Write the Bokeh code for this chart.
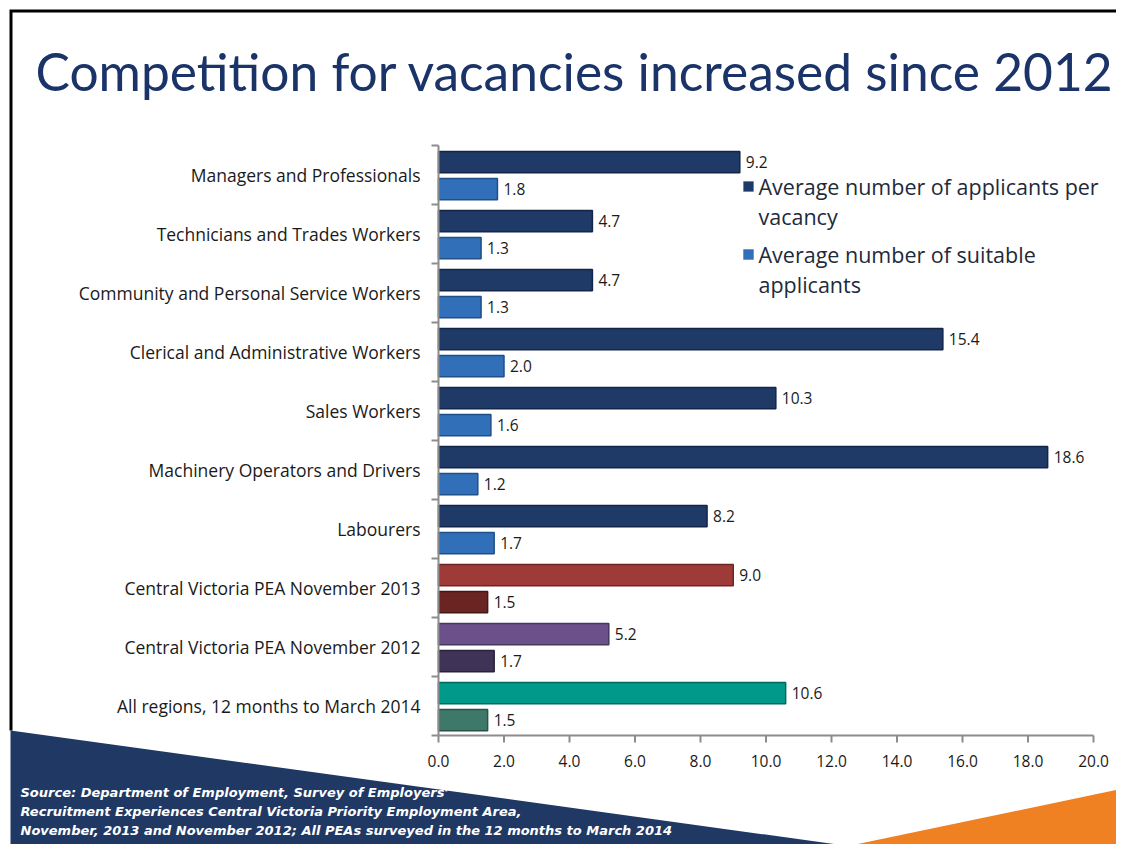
from bokeh.plotting import figure
from bokeh.models import Range1d, Label, PolyAnnotation, ColumnDataSource, BoxAnnotation
from bokeh.embed import file_html
from bokeh.resources import INLINE
from bokeh.core.properties import value

# ---------------- data ----------------
categories = [
    "Managers and Professionals",
    "Technicians and Trades Workers",
    "Community and Personal Service Workers",
    "Clerical and Administrative Workers",
    "Sales Workers",
    "Machinery Operators and Drivers",
    "Labourers",
    "Central Victoria PEA November 2013",
    "Central Victoria PEA November 2012",
    "All regions, 12 months to March 2014",
]
applicants = [9.2, 4.7, 4.7, 15.4, 10.3, 18.6, 8.2, 9.0, 5.2, 10.6]
suitable = [1.8, 1.3, 1.3, 2.0, 1.6, 1.2, 1.7, 1.5, 1.7, 1.5]
x_ticks = [0, 2, 4, 6, 8, 10, 12, 14, 16, 18, 20]
title_text = "Competition for vacancies increased since 2012"
legend_lines = [["Average number of applicants per", "vacancy"],
                ["Average number of suitable", "applicants"]]
source_lines = [
    "Source: Department of Employment, Survey of Employers'",
    "Recruitment Experiences Central Victoria Priority Employment Area,",
    "November, 2013 and November 2012; All PEAs surveyed in the 12 months to March 2014",
]

# ---------------- styles / layout constants ----------------
app_colors = ["#1F3A66"] * 7 + ["#9E3B39", "#6B5089", "#00998A"]
suit_colors = ["#3170B8"] * 7 + ["#6A2523", "#3F3357", "#3E7868"]
app_lines = ["#132649"] * 7 + ["#6E2624", "#47365E", "#00695F"]
suit_lines = ["#1F4F88"] * 7 + ["#451717", "#2A223B", "#28524A"]
FONT = "Open Sans"
TEXT = "#1A1A1A"
AXIS = "#8C8C8C"
W, H = 1116, 844
PX_LEFT, PX_RIGHT, PX_TOP, PX_BOTTOM = 438, 1093, 145, 735

n = len(categories)
x_max = x_ticks[-1]
K = (PX_RIGHT - PX_LEFT) / x_max          # pixels per x unit
R = (PX_BOTTOM - PX_TOP) / n              # pixels per category row
TICK = 7

idx = list(range(n))
src = ColumnDataSource(dict(
    y_app=[i + 0.28 for i in idx],
    y_suit=[i + 0.74 for i in idx],
    app=applicants,
    suit=suitable,
    app_txt=[f"{v:.1f}" for v in applicants],
    suit_txt=[f"{v:.1f}" for v in suitable],
    app_col=app_colors,
    suit_col=suit_colors,
    app_line=app_lines,
    suit_line=suit_lines,
))

p = figure(width=W, height=H, min_border=0,
           x_range=Range1d(-PX_LEFT / K, (W - PX_LEFT) / K),
           y_range=Range1d((H - PX_TOP) / R, -PX_TOP / R),
           x_axis_location=None, y_axis_location=None,
           output_backend="svg", toolbar_location=None,
           background_fill_color="white", border_fill_color="white",
           outline_line_color=None)
p.xgrid.visible = False
p.ygrid.visible = False

# ---------------- slide decoration ----------------
p.add_layout(PolyAnnotation(xs=[850, 1200, 1200, 850], ys=[845, 772, 900, 900],
                            xs_units="canvas", ys_units="canvas",
                            fill_color="#F08122", fill_alpha=1, line_color=None, level="underlay"))
p.add_layout(PolyAnnotation(xs=[10, 953, 10], ys=[730, 860, 860],
                            xs_units="canvas", ys_units="canvas",
                            fill_color="#1F3864", fill_alpha=1, line_color=None, level="underlay"))
p.add_layout(PolyAnnotation(xs=[9, 1200, 1200, 12, 12, 9], ys=[9, 9, 12, 12, 730, 730],
                            xs_units="canvas", ys_units="canvas",
                            fill_color="black", fill_alpha=1, line_color=None, level="underlay"))

# ---------------- bars ----------------
p.hbar(y="y_app", left=0, right="app", height=0.36, source=src,
       fill_color="app_col", line_color="app_line", line_width=1.5)
p.hbar(y="y_suit", left=0, right="suit", height=0.36, source=src,
       fill_color="suit_col", line_color="suit_line", line_width=1.5)

# value labels
p.text(x="app", y="y_app", text="app_txt", source=src, x_offset=6,
       text_baseline="middle", text_align="left", text_font=value(FONT),
       text_font_size="15.5px", text_color=TEXT)
p.text(x="suit", y="y_suit", text="suit_txt", source=src, x_offset=6,
       text_baseline="middle", text_align="left", text_font=value(FONT),
       text_font_size="15.5px", text_color=TEXT)

# ---------------- axes (drawn through the plot scales) ----------------
# x axis
p.segment(x0=[x_ticks[0]], y0=[n], x1=[x_max], y1=[n], line_color=AXIS, line_width=2)
p.segment(x0=x_ticks, y0=[n] * len(x_ticks), x1=x_ticks, y1=[n + TICK / R] * len(x_ticks),
          line_color=AXIS, line_width=2)
p.text(x=x_ticks, y=[n + 25 / R] * len(x_ticks), text=[f"{t:.1f}" for t in x_ticks],
       text_align="center", text_baseline="middle", text_font=value(FONT),
       text_font_size="15.5px", text_color=TEXT)
# y axis
bounds = list(range(n + 1))
p.segment(x0=[0], y0=[0], x1=[0], y1=[n], line_color=AXIS, line_width=2)
p.segment(x0=[0] * len(bounds), y0=bounds, x1=[-TICK / K] * len(bounds), y1=bounds,
          line_color=AXIS, line_width=2)
p.text(x=[0] * n, y=[i + 0.5 for i in idx], text=categories, x_offset=-18,
       text_align="right", text_baseline="middle", text_font=value(FONT),
       text_font_size="17.5px", text_color=TEXT)

# ---------------- title ----------------
p.add_layout(Label(x=35, y=70, x_units="canvas", y_units="canvas", text=title_text,
                   text_font="Lato", text_font_size="51.5px", text_color="#1A3368",
                   text_baseline="middle", text_align="left"))

# ---------------- legend (manual, two-line labels) ----------------
leg_cols = ["#1F3A66", "#3170B8"]
leg_y = [186, 254]
for col, ly, lines in zip(leg_cols, leg_y, legend_lines):
    p.add_layout(BoxAnnotation(left=743, right=753, top=ly - 5, bottom=ly + 5,
                               left_units="canvas", right_units="canvas",
                               top_units="canvas", bottom_units="canvas",
                               fill_color=col, fill_alpha=1, line_color="#4A4A4A",
                               line_width=1, level="annotation"))
    for k, t in enumerate(lines):
        p.add_layout(Label(x=758, y=ly + 30 * k, x_units="canvas", y_units="canvas", text=t,
                           text_font=FONT, text_font_size="21.5px", text_color="#1E2A3A",
                           text_baseline="middle", text_align="left"))

# ---------------- source note ----------------
for k, t in enumerate(source_lines):
    p.add_layout(Label(x=20, y=792 + 19 * k, x_units="canvas", y_units="canvas", text=t,
                       text_font="DejaVu Sans", text_font_size="13px",
                       text_font_style="bold italic",
                       text_color="white", text_baseline="middle", text_align="left"))

open("out.html", "w").write(file_html(p, INLINE))
